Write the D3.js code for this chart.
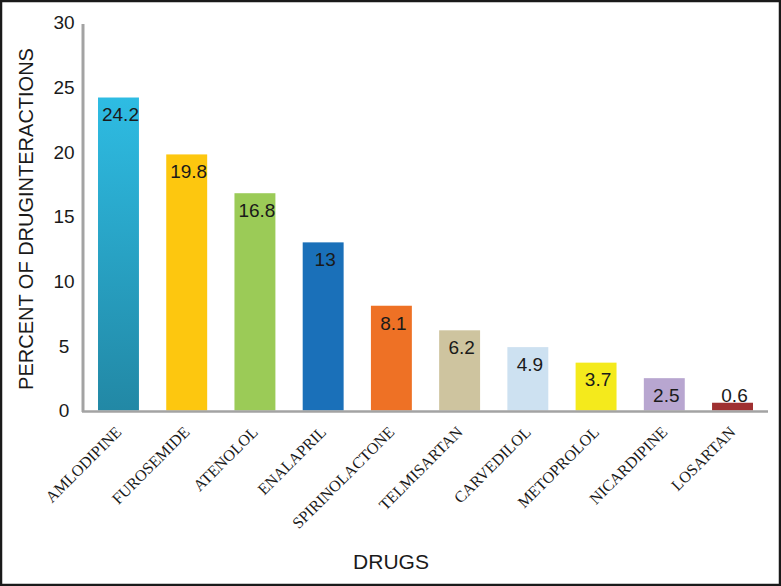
<!DOCTYPE html>
<html>
<head>
<meta charset="utf-8">
<script src="https://cdn.jsdelivr.net/npm/d3@7"></script>
<style>
  html, body { margin: 0; padding: 0; background: #fff; }
  svg { display: block; }
</style>
</head>
<body>
<svg id="chart" width="781" height="586"></svg>
<script>
const drugs = ["AMLODIPINE","FUROSEMIDE","ATENOLOL","ENALAPRIL","SPIRINOLACTONE","TELMISARTAN","CARVEDILOL","METOPROLOL","NICARDIPINE","LOSARTAN"];
const percents = [24.2, 19.8, 16.8, 13, 8.1, 6.2, 4.9, 3.7, 2.5, 0.6];
const valueLabels = ["24.2","19.8","16.8","13","8.1","6.2","4.9","3.7","2.5","0.6"];
const barColors = ["url(#gradAml)","#FDC70F","#9BCB57","#1A70B9","#EE7125","#CEC49F","#CDE1F1","#F4EA1C","#B8A6D0","#9F3031"];
const yTicks = [0, 5, 10, 15, 20, 25, 30];

const svg = d3.select("#chart");
const W = 781, H = 586;

// frame
svg.append("rect").attr("x", 1).attr("y", 1).attr("width", W - 2).attr("height", H - 2)
  .attr("fill", "#fff").attr("stroke", "#1a1a1a").attr("stroke-width", 2.5);

const defs = svg.append("defs");
const g = defs.append("linearGradient").attr("id", "gradAml")
  .attr("x1", 0).attr("y1", 0).attr("x2", 0).attr("y2", 1);
g.append("stop").attr("offset", "0%").attr("stop-color", "#2EBCE3");
g.append("stop").attr("offset", "100%").attr("stop-color", "#2288A5");

const x = d3.scaleBand().domain(drugs).range([83, 768]).paddingInner(0.4).paddingOuter(0.22);
const y = d3.scaleLinear().domain([0, 30]).range([410.5, 22.5]);

// bars
svg.selectAll("rect.bar").data(drugs).enter().append("rect")
  .attr("class", "bar")
  .attr("x", d => x(d))
  .attr("width", x.bandwidth())
  .attr("y", (d, i) => y(percents[i]))
  .attr("height", (d, i) => y(0) - y(percents[i]))
  .attr("fill", (d, i) => barColors[i]);

// axes lines
svg.append("line").attr("x1", 83).attr("x2", 83).attr("y1", 24).attr("y2", 412)
  .attr("stroke", "#A3A3A3").attr("stroke-width", 3);
svg.append("line").attr("x1", 82).attr("x2", 768).attr("y1", 411.5).attr("y2", 411.5)
  .attr("stroke", "#A3A3A3").attr("stroke-width", 2.5);

// y tick labels
svg.selectAll("text.ytick").data(yTicks).enter().append("text")
  .attr("class", "ytick")
  .attr("x", 64)
  .attr("y", d => y(d))
  .attr("dy", "0.36em")
  .attr("text-anchor", "middle")
  .attr("font-family", "Liberation Sans, Arial, sans-serif")
  .attr("font-size", 19)
  .attr("fill", "#1a1a1a")
  .text(d => d);

// value labels
svg.selectAll("text.val").data(drugs).enter().append("text")
  .attr("class", "val")
  .attr("x", d => x(d) + x.bandwidth() / 2 + 2)
  .attr("y", (d, i) => Math.min(y(percents[i]) + 17, y(0) - 15))
  .attr("dy", "0.36em")
  .attr("text-anchor", "middle")
  .attr("font-family", "Liberation Sans, Arial, sans-serif")
  .attr("font-size", 19)
  .attr("fill", "#1a1a1a")
  .text((d, i) => valueLabels[i]);

// x tick labels (rotated)
svg.selectAll("text.xtick").data(drugs).enter().append("text")
  .attr("class", "xtick")
  .attr("transform", d => `translate(${x(d) + x.bandwidth() / 2 + 4},${433}) rotate(-45)`)
  .attr("text-anchor", "end")
  .attr("font-family", "Liberation Serif, Times New Roman, serif")
  .attr("font-size", 16)
  .attr("fill", "#1a1a1a")
  .text(d => d);

// axis titles
svg.append("text")
  .attr("x", 391).attr("y", 569)
  .attr("text-anchor", "middle")
  .attr("font-family", "Liberation Sans, Arial, sans-serif")
  .attr("font-size", 21)
  .attr("fill", "#1a1a1a")
  .text("DRUGS");

svg.append("text")
  .attr("transform", "translate(33,219) rotate(-90)")
  .attr("text-anchor", "middle")
  .attr("font-family", "Liberation Sans, Arial, sans-serif")
  .attr("font-size", 20)
  .attr("fill", "#1a1a1a")
  .text("PERCENT OF DRUGINTERACTIONS");
</script>
</body>
</html>
